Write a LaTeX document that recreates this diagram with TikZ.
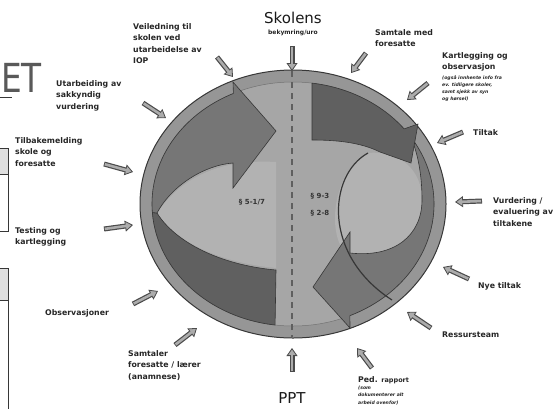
\documentclass[tikz,border=0pt]{standalone}
\usepackage{fontspec}
\setmainfont{DejaVu Sans}
\usepackage{tikz}
\usetikzlibrary{arrows.meta}
\definecolor{kant}{RGB}{55,55,55}
\definecolor{ringgraa}{RGB}{150,150,150}
\definecolor{bakgrunn}{RGB}{166,166,166}
\definecolor{linse}{RGB}{178,178,178}
\definecolor{mork}{RGB}{96,96,96}
\definecolor{middels}{RGB}{118,118,118}
\definecolor{pilfyll}{RGB}{172,172,172}
\tikzset{
	tekst/.style={font=\bfseries\fontsize{7.8}{11.5}\selectfont, align=left, anchor=north west, inner sep=0pt, text=black!85},
	notat/.style={font=\bfseries\itshape\fontsize{4.6}{7.2}\selectfont, align=left, anchor=north west, inner sep=0pt, text=black!85},
	tittel/.style={font=\fontsize{15}{17}\selectfont, inner sep=0pt, text=black!90},
	undertittel/.style={font=\bfseries\fontsize{6}{7}\selectfont, inner sep=0pt, text=black!85},
	paragraf/.style={font=\bfseries\fontsize{7}{10}\selectfont, inner sep=0pt, text=black!80},
	blokkpil/.style={line width=5pt, draw=kant!90, -{Triangle[length=8pt,width=11pt,fill=pilfyll,line width=0.8pt]},
		postaction={draw=pilfyll, line width=2.6pt, -, shorten >=6.5pt, shorten <=0.8pt}},
	felt/.style={draw=kant, line width=0.8pt},
	>=stealth,
	}

\begin{document}
\begin{tikzpicture}[x=1pt, y=-1pt]
\useasboundingbox (0,0) rectangle (556,408);
%KANT TIL VENSTRE
\node[font=\fontsize{40}{40}\selectfont, text=gray!70!black, anchor=east, inner sep=0pt, xscale=0.82] (logo) at (42,78) {ET};
\draw[kant, line width=0.8pt] (0,97) -- (12,97);
\fill[gray!25] (-1,148) rectangle (8,174);
\draw[felt] (-1,148) -- (8,148) -- (8,231) -- (-1,231);
\draw[felt] (-1,174) -- (8,174);
\fill[gray!25] (-1,268) rectangle (8,300);
\draw[felt] (-1,268) -- (8,268) -- (8,410);
\draw[felt] (-1,300) -- (8,300);
%SIRKEL
\coordinate (s) at (293,204);
\filldraw[fill=ringgraa, draw=kant, line width=1pt] (s) ellipse [x radius=153, y radius=134];
\filldraw[fill=bakgrunn, draw=kant!70, line width=0.5pt] (s) ellipse [x radius=141, y radius=122];
% LYSE FELT
\fill[linse] (157,213) .. controls (190,165) and (240,160) .. (276,162) -- (276,268) .. controls (215,262) and (175,240) .. (157,213) -- cycle;
\fill[linse] (368,153) .. controls (330,172) and (325,245) .. (352,258) .. controls (395,258) and (422,235) .. (422,200) .. controls (422,170) and (400,150) .. (368,153) -- cycle;
% PILER VENSTRE
\filldraw[fill=mork, draw=kant, line width=0.6pt] (157,213) .. controls (175,242) and (220,265) .. (276,270) -- ([shift={(97.3:141 and 122)}]s) arc[start angle=97.3, end angle=176, x radius=141, y radius=122] -- cycle;
\filldraw[fill=middels, draw=kant, line width=0.6pt] ([shift={(176:141 and 122)}]s) arc[start angle=176, end angle=245, x radius=141, y radius=122] -- (233,82) -- (276,131) -- (233,188) -- (233,163) .. controls (205,165) and (172,185) .. (157,213) -- cycle;
% PILER HOYRE
\filldraw[fill=middels, draw=kant, line width=0.6pt] ([shift={(328:141 and 122)}]s) arc[start angle=328, end angle=426.2, x radius=141, y radius=122] -- (350,328) -- (313,287) -- (350,232) -- (350,253) .. controls (395,258) and (422,235) .. (422,200) .. controls (422,175) and (418,155) .. (412,140) -- cycle;
\filldraw[fill=mork, draw=kant, line width=0.6pt] ([shift={(277.75:141 and 122)}]s) arc[start angle=277.75, end angle=322, x radius=141, y radius=122] -- (418,124) -- (411,163) -- (380,152) .. controls (360,142) and (335,140) .. (312,140) -- cycle;
\draw[kant, line width=1.2pt] (368,153) .. controls (328,175) and (322,255) .. (392,300);
% STIPLET LINJE
\coordinate (topp) at (292,71);
\coordinate (bunn) at (292,337);
\draw[kant!80, line width=1.3pt, dash pattern=on 6pt off 5pt] (topp) -- (bunn);
\node[paragraf] (par1) at (252,202) {§ 5-1/7};
\node[paragraf] (par2) at (320,196) {§ 9-3};
\node[paragraf] (par3) at (320,213) {§ 2-8};
%TEKSTER
\node[tittel] (skolens) at (293,18) {Skolens};
\node[undertittel] (bekymring) at (293,33) {bekymring/uro};
\node[tekst] (veiledning) at (133,23) {Veiledning til\\skolen ved\\utarbeidelse av\\IOP};
\node[tekst] (samtale) at (375,29) {Samtale med\\foresatte};
\node[tekst] (kartlegging) at (442,52) {Kartlegging og\\observasjon};
\node[notat] (kartnotat) at (442,75) {(også innhente info fra\\ev. tidligere skoler,\\samt sjekk av syn\\og hørsel)};
\node[tekst] (tiltak) at (473,129) {Tiltak};
\node[tekst] (vurdering) at (493,197) {Vurdering /\\evaluering av\\tiltakene};
\node[tekst] (nye) at (478,282) {Nye tiltak};
\node[tekst] (ressurs) at (442,332) {Ressursteam};
\node[tekst] (ped) at (358,376) {Ped. {\fontsize{6.5}{8}\selectfont rapport}};
\node[notat] (pednotat) at (358,386) {(som\\dokumenterer alt\\arbeid ovenfor)};
\node[tittel] (ppt) at (292,398) {PPT};
\node[tekst] (samtaler) at (128,350) {Samtaler\\foresatte / lærer\\(anamnese)};
\node[tekst] (observasjoner) at (45,309) {Observasjoner};
\node[tekst] (testing) at (15,227) {Testing og\\kartlegging};
\node[tekst] (tilbakemelding) at (15,137) {Tilbakemelding\\skole og\\foresatte};
\node[tekst] (utarbeiding) at (56,80) {Utarbeiding av\\sakkyndig\\vurdering};
%PILER INN
\coordinate (a1) at (292,46);  \coordinate (b1) at (292,71);
\coordinate (a2) at (217,57);  \coordinate (b2) at (233,77);
\coordinate (a3) at (143,103); \coordinate (b3) at (166,118);
\coordinate (a4) at (104,164); \coordinate (b4) at (133,172);
\coordinate (a5) at (104,229); \coordinate (b5) at (133,225);
\coordinate (a6) at (133,304); \coordinate (b6) at (158,291);
\coordinate (a7) at (175,345); \coordinate (b7) at (197,328);
\coordinate (a8) at (292,372); \coordinate (b8) at (292,348);
\coordinate (a9) at (372,368); \coordinate (b9) at (357,348);
\coordinate (a10) at (431,328); \coordinate (b10) at (407,312);
\coordinate (a11) at (469,279); \coordinate (b11) at (443,267);
\coordinate (a12) at (482,201); \coordinate (b12) at (455,202);
\coordinate (a13) at (463,132); \coordinate (b13) at (437,143);
\coordinate (a14) at (428,83);  \coordinate (b14) at (407,100);
\coordinate (a15) at (366,53);  \coordinate (b15) at (351,73);
\foreach \i in {1,...,15}
	\draw[blokkpil] (a\i) -- (b\i);
\end{tikzpicture}
\end{document}
